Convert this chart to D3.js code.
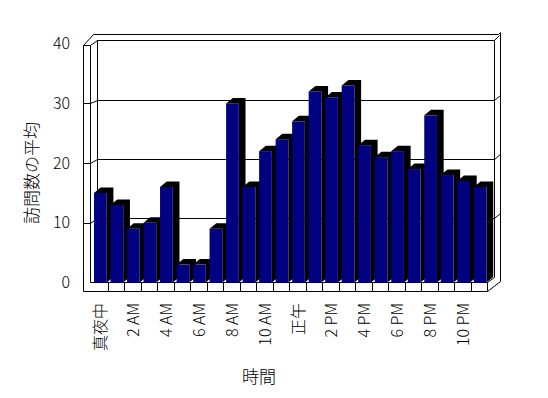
<!DOCTYPE html>
<html>
<head>
<meta charset="utf-8">
<script src="https://cdn.jsdelivr.net/npm/d3@7"></script>
<style>
  body { margin: 0; background: #fff }
  text { font-family: "Noto Sans CJK JP", sans-serif; font-weight: 300; fill: #000 }
</style>
</head>
<body>
<script>
  const hours = ['真夜中', '1 AM', '2 AM', '3 AM', '4 AM', '5 AM', '6 AM', '7 AM', '8 AM', '9 AM', '10 AM', '11 AM',
    '正午', '1 PM', '2 PM', '3 PM', '4 PM', '5 PM', '6 PM', '7 PM', '8 PM', '9 PM', '10 PM', '11 PM'];
  const visits = [15, 13, 9, 10, 16, 3, 3, 9, 30, 16, 22, 24, 27, 32, 31, 33, 23, 21, 22, 19, 28, 18, 17, 16];
  const yTicks = [0, 10, 20, 30, 40];
  const shownHours = hours.filter((h, i) => i % 2 === 0);

  const width = 548, height = 398;
  const DX = 6.7, DY = -5.5;   // depth of the bars

  const svg = d3.select('body').append('svg')
    .attr('width', width)
    .attr('height', height);

  const x = d3.scaleBand().domain(hours).range([91, 487.3]);
  const y = d3.scaleLinear().domain([0, 40]).range([282.5, 43.7]);
  const yBack = d3.scaleLinear().domain([0, 40]).range([276.8, 40.5]);

  const lines = svg.append('g')
    .attr('fill', 'none')
    .attr('stroke', '#000')
    .attr('stroke-width', 1);

  // walls
  lines.append('path').attr('d', 'M83.5,291.5 V45.5 L93.5,34.5 H498.5 L500.5,32.5 V281.5 L487.5,291.5 H83.5');
  lines.append('path').attr('d', 'M90.5,282.5 V45.5 H83.5 M90.5,45.5 L97.5,40.5 H494.5 V277.5 M494.5,40.5 L499.5,35.5');
  lines.append('path').attr('d', 'M97.5,40.5 V277.5');

  // gridlines running over left wall and back wall
  lines.selectAll('path.grid')
    .data(yTicks.filter(v => v > 0 && v < 40))
    .join('path')
    .attr('class', 'grid')
    .attr('d', v => {
      const yf = Math.round(y(v)) + 0.5, yb = Math.round(yBack(v)) + 0.5;
      return `M83.5,${yf} H90.5 L97.5,${yb} H494.5 L500.5,${yb - 5}`;
    });

  // floor front face
  lines.append('path').attr('d', 'M90.5,282.5 H487.5 V291.5 M487.5,282.5 L494.5,277.5');
  lines.selectAll('path.ftick')
    .data(hours.slice(1))
    .join('path')
    .attr('class', 'ftick')
    .attr('d', h => `M${Math.round(x(h)) + 0.5},282.5 V291.5`);

  // bars
  const bw = x.bandwidth() * 0.77;
  const bar = svg.append('g').selectAll('g')
    .data(visits)
    .join('g');

  const x0 = (d, i) => x(hours[i]) + 3;
  bar.append('path')
    .attr('fill', '#000')
    .attr('d', (d, i) => {
      const a = x0(d, i), b = a + bw, t = y(d), base = y(0);
      return `M${b},${base} V${t} L${b + DX},${t + DY} V${base + DY} Z` +
        `M${a},${t} L${a + DX},${t + DY} H${b + DX} L${b},${t} Z`;
    });
  bar.append('rect')
    .attr('fill', '#000080')
    .attr('x', x0)
    .attr('y', d => y(d))
    .attr('width', bw)
    .attr('height', d => y(0) - y(d));

  // y tick labels
  svg.append('g').selectAll('text')
    .data(yTicks)
    .join('text')
    .attr('x', 70)
    .attr('y', d => y(d))
    .attr('dy', '0.35em')
    .attr('text-anchor', 'end')
    .attr('font-size', 16)
    .text(d => d);

  // x tick labels
  svg.append('g').selectAll('text')
    .data(shownHours)
    .join('text')
    .attr('transform', h => `translate(${x(h) + x.bandwidth() / 2 + 1},303) rotate(-90)`)
    .attr('dy', '0.35em')
    .attr('text-anchor', 'end')
    .attr('font-size', 16)
    .text(h => h);

  // axis titles
  svg.append('text')
    .attr('transform', 'translate(32,173) rotate(-90)')
    .attr('dy', '0.35em')
    .attr('text-anchor', 'middle')
    .attr('font-size', 17)
    .text('訪問数の平均');

  svg.append('text')
    .attr('x', 259)
    .attr('y', 377)
    .attr('dy', '0.35em')
    .attr('text-anchor', 'middle')
    .attr('font-size', 17)
    .text('時間');
</script>
</body>
</html>
